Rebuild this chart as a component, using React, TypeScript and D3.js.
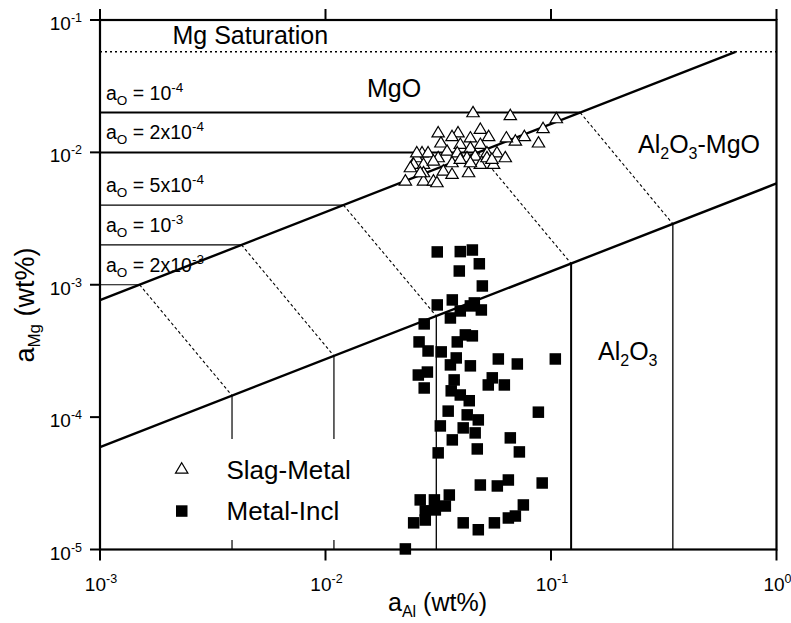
import React from 'react';
import * as d3 from 'd3';

// Axis decades
const xTicks = [1e-3, 1e-2, 1e-1, 1];
const xTickExp = ['-3', '-2', '-1', '0'];
const yTicks = [1e-1, 1e-2, 1e-3, 1e-4, 1e-5];
const yTickExp = ['-1', '-2', '-3', '-4', '-5'];

// Mg saturation activity (dotted line)
const mgSaturation = 0.0575;

// Oxygen activity isolines: a_Mg where MgO forms, a_Al where Al2O3 forms
const oxygenActivity = [1e-4, 2e-4, 5e-4, 1e-3, 2e-3];
const oxygenMantissa = ['', '2x', '5x', '', '2x'];
const oxygenExponent = ['-4', '-4', '-4', '-3', '-3'];
const mgoLimitMg = [0.02, 0.01, 0.004, 0.002, 0.001];
const al2o3LimitAl = [0.347, 0.1228, 0.031, 0.0109, 0.00385];

// Phase boundaries (end points, a_Al / a_Mg)
const mgoSpinelAl = [0.001, 0.658];
const mgoSpinelMg = [0.000764, 0.0575];
const spinelAluminaAl = [0.001, 1];
const spinelAluminaMg = [0.0000594, 0.00582];

// Slag-Metal equilibrium data [a_Al, a_Mg]
const slagMetal: [number, number][] = [
  [0.0451, 0.0203], [0.066, 0.0193], [0.1056, 0.0183], [0.0922, 0.0154], [0.088, 0.012],
  [0.0762, 0.0134], [0.0695, 0.0124], [0.0634, 0.0131], [0.0486, 0.0152], [0.0529, 0.0134],
  [0.0387, 0.0143], [0.0316, 0.0143], [0.0364, 0.0134], [0.0439, 0.0131], [0.0325, 0.012],
  [0.0396, 0.0117], [0.0486, 0.0117], [0.0439, 0.011], [0.0268, 0.0101], [0.0285, 0.0101],
  [0.0346, 0.0104], [0.0384, 0.0101], [0.052, 0.0101], [0.0576, 0.0101], [0.0254, 0.00928],
  [0.0316, 0.00928], [0.0424, 0.00928], [0.0461, 0.00956], [0.0246, 0.00827], [0.0272, 0.00827],
  [0.0301, 0.00876], [0.0364, 0.00851], [0.0396, 0.00902], [0.0486, 0.00827], [0.052, 0.00928],
  [0.0556, 0.00827], [0.0627, 0.00928], [0.0272, 0.00715], [0.0333, 0.00736], [0.0364, 0.00695],
  [0.0431, 0.00715], [0.0226, 0.00619], [0.0272, 0.00619], [0.0301, 0.00619], [0.0312, 0.00601],
  [0.0254, 0.0101], [0.0439, 0.00851], [0.0547, 0.00902], [0.0238, 0.0078], [0.0263, 0.00715],
];

// Metal-Inclusion data [a_Al, a_Mg]
const metalIncl: [number, number][] = [
  [0.0313, 0.00177], [0.0396, 0.00178], [0.0448, 0.00183], [0.0392, 0.00127], [0.0481, 0.00144],
  [0.0496, 0.000979], [0.0313, 0.000704], [0.0365, 0.000768], [0.0358, 0.000561], [0.0396, 0.000634],
  [0.0439, 0.000692], [0.0491, 0.000645], [0.0457, 0.000729], [0.0274, 0.000506], [0.026, 0.00037],
  [0.0384, 0.00037], [0.0417, 0.000418], [0.0448, 0.000411], [0.0285, 0.000316], [0.0326, 0.000311],
  [0.038, 0.00028], [0.0358, 0.000248], [0.0439, 0.000244], [0.0584, 0.000275], [0.0709, 0.000252],
  [0.1045, 0.000275], [0.0258, 0.000208], [0.0283, 0.000219], [0.0274, 0.000166], [0.0372, 0.000191],
  [0.0549, 0.000198], [0.0527, 0.000175], [0.0621, 0.000175], [0.0361, 0.000158], [0.0396, 0.000147],
  [0.0434, 0.000133], [0.035, 0.000111], [0.0425, 0.000104], [0.0476, 0.0000953], [0.0323, 0.0000858],
  [0.0408, 0.0000829], [0.0461, 0.000076], [0.0365, 0.0000673], [0.0471, 0.0000575], [0.066, 0.0000697],
  [0.0879, 0.000109], [0.0316, 0.0000537], [0.0724, 0.0000546], [0.0486, 0.0000307], [0.0578, 0.0000302],
  [0.0647, 0.0000335], [0.0914, 0.0000318], [0.0263, 0.0000237], [0.0304, 0.0000237], [0.0354, 0.0000258],
  [0.0277, 0.0000196], [0.034, 0.0000213], [0.0307, 0.0000199], [0.0246, 0.0000159], [0.0277, 0.0000167],
  [0.0408, 0.0000159], [0.0476, 0.0000141], [0.0561, 0.0000159], [0.0647, 0.0000173], [0.0695, 0.0000179],
  [0.0754, 0.0000217], [0.0226, 0.0000101],
];

const W = 791;
const H = 623;
const FONT = '"Liberation Sans", Arial, Helvetica, sans-serif';

const x = d3.scaleLog().domain([1e-3, 1]).range([100, 776.5]);
const y = d3.scaleLog().domain([1e-5, 1e-1]).range([549.5, 20]);

const L = Math.log10;

// point on a straight log-log line at a given a_Mg
function alOnLine(al: number[], mg: number[], mgVal: number) {
  const t = (L(mgVal) - L(mg[0])) / (L(mg[1]) - L(mg[0]));
  return Math.pow(10, L(al[0]) + t * (L(al[1]) - L(al[0])));
}
// point on a straight log-log line at a given a_Al
function mgOnLine(al: number[], mg: number[], alVal: number) {
  const t = (L(alVal) - L(al[0])) / (L(al[1]) - L(al[0]));
  return Math.pow(10, L(mg[0]) + t * (L(mg[1]) - L(mg[0])));
}

const hWidths = [2, 2, 1.2, 1.2, 1.2];
const vWidths = [1.3, 2, 1.3, 1.2, 1.2];

const trianglePath = 'M0,-5.8L6.2,4.6L-6.2,4.6Z';
const SQ = 11.5;

export default function App() {
  const line = d3.line<[number, number]>().x((d) => x(d[0])).y((d) => y(d[1]));
  const xMin = 1e-3;
  const yMin = 1e-5;

  return (
    <svg
      width={W}
      height={H}
      style={{ position: 'absolute', left: 0, top: 0, background: '#fff' }}
      fontFamily={FONT}
    >
      <rect width={W} height={H} fill="#fff" />

      {/* Mg saturation */}
      <line x1={x(1e-3)} x2={x(1)} y1={y(mgSaturation)} y2={y(mgSaturation)}
        stroke="#000" strokeWidth={1.6} strokeDasharray="2,3" />

      {/* oxygen isolines */}
      {oxygenActivity.map((ao, i) => {
        const mg = mgoLimitMg[i];
        const alCorner = alOnLine(mgoSpinelAl, mgoSpinelMg, mg);
        const al = al2o3LimitAl[i];
        const mgCorner = mgOnLine(spinelAluminaAl, spinelAluminaMg, al);
        return (
          <g key={'ao' + ao}>
            <path d={line([[xMin, mg], [alCorner, mg]]) || ''} stroke="#000" strokeWidth={hWidths[i]} fill="none" />
            <path d={line([[alCorner, mg], [al, mgCorner]]) || ''} stroke="#000" strokeWidth={1.1} strokeDasharray="3,2.5" fill="none" />
            <path d={line([[al, mgCorner], [al, yMin]]) || ''} stroke="#000" strokeWidth={vWidths[i]} fill="none" />
          </g>
        );
      })}

      {/* phase boundaries */}
      <path d={line([[mgoSpinelAl[0], mgoSpinelMg[0]], [mgoSpinelAl[1], mgoSpinelMg[1]]]) || ''}
        stroke="#000" strokeWidth={2.4} fill="none" />
      <path d={line([[spinelAluminaAl[0], spinelAluminaMg[0]], [spinelAluminaAl[1], spinelAluminaMg[1]]]) || ''}
        stroke="#000" strokeWidth={2.4} fill="none" />

      {/* oxygen activity labels */}
      {oxygenActivity.map((ao, i) => (
        <text key={'lab' + ao} x={106} y={y(mgoLimitMg[i]) - 13} fontSize={19.5} fill="#000">
          a<tspan dy={5} fontSize={13.5}>O</tspan>
          <tspan dy={-5}>{' = ' + oxygenMantissa[i] + '10'}</tspan>
          <tspan dy={-8} fontSize={13.5}>{oxygenExponent[i]}</tspan>
        </text>
      ))}

      {/* region labels */}
      <text x={172.5} y={44} fontSize={25} fill="#000">Mg Saturation</text>
      <text x={367} y={97} fontSize={25} fill="#000">MgO</text>
      <text x={638} y={153} fontSize={25} fill="#000">
        Al<tspan dy={6} fontSize={16}>2</tspan><tspan dy={-6}>O</tspan>
        <tspan dy={6} fontSize={16}>3</tspan><tspan dy={-6}>-MgO</tspan>
      </text>
      <text x={598} y={360} fontSize={25} fill="#000">
        Al<tspan dy={6} fontSize={16}>2</tspan><tspan dy={-6}>O</tspan>
        <tspan dy={6} fontSize={16}>3</tspan>
      </text>

      {/* data */}
      {metalIncl.map((d, i) => (
        <rect key={'sq' + i} x={x(d[0]) - SQ / 2} y={y(d[1]) - SQ / 2} width={SQ} height={SQ} fill="#000" />
      ))}
      {slagMetal.map((d, i) => (
        <path key={'tr' + i} d={trianglePath} transform={`translate(${x(d[0])},${y(d[1]) + 0.5})`}
          fill="#fff" stroke="#000" strokeWidth={1.2} />
      ))}

      {/* legend */}
      <rect x={150} y={439} width={225} height={101} fill="#fff" />
      <path d={trianglePath} transform="translate(181.7,468.5)" fill="#fff" stroke="#000" strokeWidth={1.2} />
      <text x={226.5} y={479} fontSize={26} fill="#000">Slag-Metal</text>
      <rect x={176} y={505.3} width={SQ} height={SQ} fill="#000" />
      <text x={226.5} y={520} fontSize={26} fill="#000">Metal-Incl</text>

      {/* frame */}
      <rect x={x(1e-3)} y={y(1e-1)} width={x(1) - x(1e-3)} height={y(1e-5) - y(1e-1)}
        fill="none" stroke="#000" strokeWidth={2.2} />

      {/* ticks */}
      {xTicks.map((t) => (
        <g key={'xt' + t}>
          <line x1={x(t)} x2={x(t)} y1={y(1e-5)} y2={y(1e-5) + 11} stroke="#000" strokeWidth={2} />
          <line x1={x(t)} x2={x(t)} y1={y(1e-1)} y2={y(1e-1) - 11} stroke="#000" strokeWidth={2} />
        </g>
      ))}
      {yTicks.map((t) => (
        <line key={'yt' + t} x1={x(1e-3) - 10} x2={x(1e-3)} y1={y(t)} y2={y(t)} stroke="#000" strokeWidth={2} />
      ))}

      {/* tick labels */}
      {xTicks.map((t, i) => (
        <text key={'xl' + t} x={x(t) + 1} y={591} fontSize={19} textAnchor="middle" fill="#000">
          10<tspan dy={-8} fontSize={12.5}>{xTickExp[i]}</tspan>
        </text>
      ))}
      {yTicks.map((t, i) => (
        <text key={'yl' + t} x={82} y={y(t) + 10} fontSize={19} textAnchor="end" fill="#000">
          10<tspan dy={-8} fontSize={12.5}>{yTickExp[i]}</tspan>
        </text>
      ))}

      {/* axis titles */}
      <text x={437.5} y={611} fontSize={25} textAnchor="middle" fill="#000">
        a<tspan dy={6} fontSize={16}>Al</tspan><tspan dy={-6}> (wt%)</tspan>
      </text>
      <text transform="translate(34,305) rotate(-90)" fontSize={27} textAnchor="middle" fill="#000">
        a<tspan dy={6} fontSize={17}>Mg</tspan><tspan dy={-6}> (wt%)</tspan>
      </text>
    </svg>
  );
}
